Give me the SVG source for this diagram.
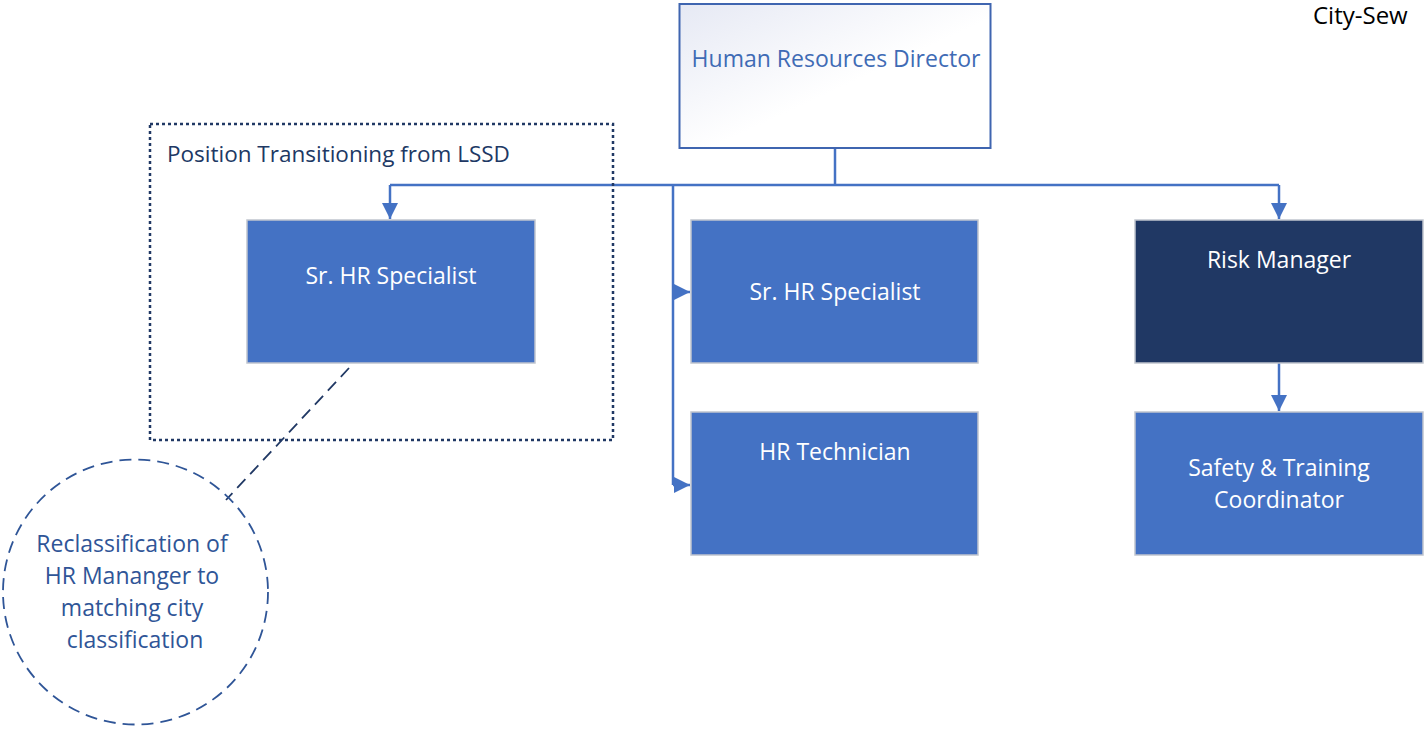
<svg xmlns="http://www.w3.org/2000/svg" width="1425" height="730" viewBox="0 0 1425 730">
  <defs>
    <linearGradient id="dirFill" x1="0" y1="0" x2="1" y2="1">
      <stop offset="0" stop-color="#E6E9F4"/>
      <stop offset="0.55" stop-color="#FFFFFF"/>
      <stop offset="1" stop-color="#FFFFFF"/>
    </linearGradient>
    <marker id="arrow" viewBox="0 0 10 10" refX="10" refY="5" markerWidth="6.5" markerHeight="6.5" markerUnits="strokeWidth" orient="auto">
      <path d="M0,0 L10,5 L0,10 Z" fill="#4472C4"/>
    </marker>
  </defs>
  <style>
    text { font-family: "Open Sans", "Noto Sans", "Liberation Sans", sans-serif; }
    .box { fill: #4472C4; stroke: #C0C5CE; stroke-width: 1.5; }
    .dark { fill: #203864; stroke: #C0C5CE; stroke-width: 1.5; }
    .lbl { fill: #FFFFFF; font-size: 23px; text-anchor: middle; }
    .conn { fill: none; stroke: #4472C4; stroke-width: 2.5; }
  </style>

  <rect width="1425" height="730" fill="#FFFFFF"/>

  <text x="1313" y="24" font-size="24" fill="#000000">City-Sew</text>

  <!-- connectors -->
  <g id="connectors">
    <path class="conn" d="M835,148 V185"/>
    <path class="conn" d="M390,185 H1279"/>
    <path class="conn" d="M390,185 V219" marker-end="url(#arrow)"/>
    <path class="conn" d="M1279,185 V219" marker-end="url(#arrow)"/>
    <path class="conn" d="M673,185 V485"/>
    <path class="conn" d="M673,292 H690" marker-end="url(#arrow)"/>
    <path class="conn" d="M673,485 H690" marker-end="url(#arrow)"/>
    <path class="conn" d="M1279,363 V411" marker-end="url(#arrow)"/>
    <path d="M349,368 L226,500" fill="none" stroke="#203864" stroke-width="1.8" stroke-dasharray="12,7"/>
  </g>

  <!-- transition group frame -->
  <g id="lssd-group">
    <rect x="150" y="124" width="463" height="316" fill="none" stroke="#203864" stroke-width="2.5" stroke-dasharray="3,3"/>
    <text x="167" y="162" font-size="22.5" fill="#203864">Position Transitioning from LSSD</text>
  </g>

  <g id="hr-director">
    <rect x="679.5" y="4" width="311" height="144" fill="url(#dirFill)" stroke="#3F65B0" stroke-width="2"/>
    <text x="836" y="67" font-size="23" fill="#3F6BB5" text-anchor="middle">Human Resources Director</text>
  </g>

  <g id="sr-hr-specialist-lssd">
    <rect class="box" x="247" y="220" width="288" height="143"/>
    <text class="lbl" x="391" y="284">Sr. HR Specialist</text>
  </g>

  <g id="sr-hr-specialist">
    <rect class="box" x="691" y="220" width="287" height="143"/>
    <text class="lbl" x="835" y="300">Sr. HR Specialist</text>
  </g>

  <g id="hr-technician">
    <rect class="box" x="691" y="412" width="287" height="143"/>
    <text class="lbl" x="835" y="460">HR Technician</text>
  </g>

  <g id="risk-manager">
    <rect class="dark" x="1135" y="220" width="288" height="143"/>
    <text class="lbl" x="1279" y="268">Risk Manager</text>
  </g>

  <g id="safety-training">
    <rect class="box" x="1135" y="412" width="288" height="143"/>
    <text class="lbl" x="1279" y="476">Safety &amp; Training</text>
    <text class="lbl" x="1279" y="508">Coordinator</text>
  </g>

  <g id="reclassification-note">
    <circle cx="135.5" cy="592" r="132.5" fill="none" stroke="#2F5597" stroke-width="1.8" stroke-dasharray="12,7"/>
    <text font-size="23" fill="#2F5597" text-anchor="middle">
      <tspan x="135" y="552">Reclassification of</tspan>
      <tspan x="135" y="584">HR Mananger to</tspan>
      <tspan x="135" y="616">matching city</tspan>
      <tspan x="135" y="648">classification</tspan>
    </text>
  </g>
</svg>
